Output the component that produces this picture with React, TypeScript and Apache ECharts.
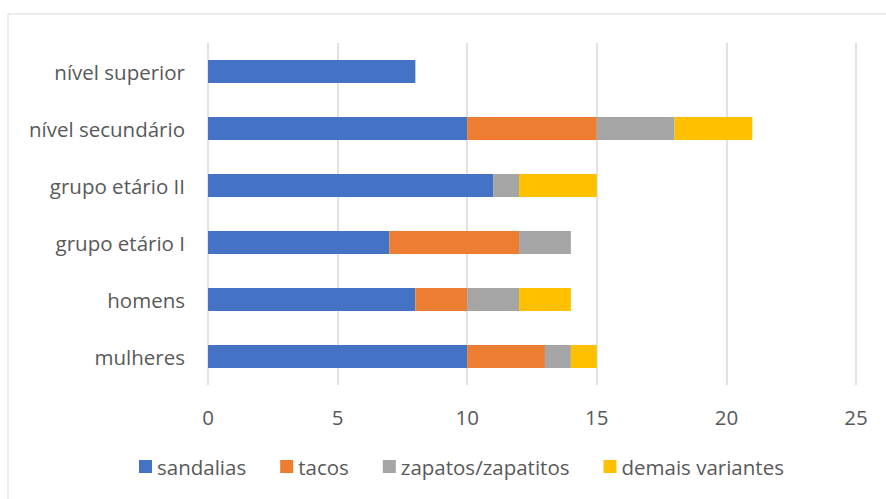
import React, { useEffect, useRef } from "react";
import * as echarts from "echarts";

const categories = ["mulheres", "homens", "grupo etário I", "grupo etário II", "nível secundário", "nível superior"];
const sandalias = [10, 8, 7, 11, 10, 8];
const tacos = [3, 2, 5, 0, 5, 0];
const zapatos = [1, 2, 2, 1, 3, 0];
const demais = [1, 2, 0, 3, 3, 0];
const seriesNames = ["sandalias", "tacos", "zapatos/zapatitos", "demais variantes"];
const colors = ["#4472C4", "#ED7D31", "#A5A5A5", "#FFC000"];

const FONT = "Open Sans";

export default function App() {
  const ref = useRef<HTMLDivElement>(null);
  useEffect(() => {
    const chart = echarts.init(ref.current!, null, { renderer: "svg" });
    const data = [sandalias, tacos, zapatos, demais];
    chart.setOption({
      animation: false,
      backgroundColor: "#ffffff",
      textStyle: { fontFamily: FONT },
      grid: { left: 208, right: 30, top: 43, bottom: 114, containLabel: false },
      xAxis: {
        type: "value",
        min: 0,
        max: 25,
        interval: 5,
        axisLine: { show: false },
        axisTick: { show: false },
        splitLine: { show: true, lineStyle: { color: "#d9d9d9", width: 1.5 } },
        axisLabel: { color: "#595959", fontSize: 20.5, fontFamily: FONT, margin: 21 },
      },
      yAxis: {
        type: "category",
        data: categories,
        axisLine: { show: false },
        axisTick: { show: false },
        axisLabel: { color: "#595959", fontSize: 20.5, fontFamily: FONT, margin: 23 },
      },
      legend: {
        bottom: 17,
        left: 134,
        itemWidth: 13,
        itemHeight: 13,
        itemGap: 34,
        icon: "rect",
        textStyle: { color: "#595959", fontSize: 20.5, fontFamily: FONT },
        data: seriesNames,
      },
      graphic: [
        { type: "line", shape: { x1: 8, y1: 14, x2: 886, y2: 14 }, style: { stroke: "#d9d9d9", lineWidth: 1 } },
        { type: "line", shape: { x1: 8, y1: 14, x2: 8, y2: 499 }, style: { stroke: "#d9d9d9", lineWidth: 1 } },
      ],
      series: seriesNames.map((name, i) => ({
        name,
        type: "bar",
        stack: "total",
        barWidth: 23,
        itemStyle: { color: colors[i] },
        data: data[i],
      })),
    });
    return () => chart.dispose();
  }, []);
  return <div ref={ref} style={{ position: "fixed", left: 0, top: 0, width: 886, height: 499 }} />;
}
